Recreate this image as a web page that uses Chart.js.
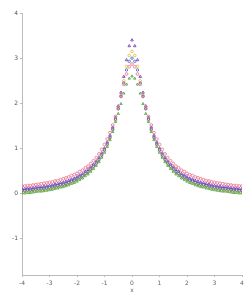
<!DOCTYPE html>
<html><head><meta charset="utf-8">
<script src="https://cdn.jsdelivr.net/npm/chart.js@4/dist/chart.umd.min.js"></script>
<style>html,body{margin:0;padding:0;background:#fff}#c{display:block}</style>
</head><body>
<canvas id="c" width="248" height="294"></canvas>
<script>
// x positions (step 0.1 from -4 to 4)
const xValues = [-4.0,-3.9,-3.8,-3.7,-3.6,-3.5,-3.4,-3.3,-3.2,-3.1,-3.0,-2.9,-2.8,-2.7,-2.6,-2.5,-2.4,-2.3,-2.2,-2.1,-2.0,-1.9,-1.8,-1.7,-1.6,-1.5,-1.4,-1.3,-1.2,-1.1,-1.0,-0.9,-0.8,-0.7,-0.6,-0.5,-0.4,-0.3,-0.2,-0.1,0.0,0.1,0.2,0.3,0.4,0.5,0.6,0.7,0.8,0.9,1.0,1.1,1.2,1.3,1.4,1.5,1.6,1.7,1.8,1.9,2.0,2.1,2.2,2.3,2.4,2.5,2.6,2.7,2.8,2.9,3.0,3.1,3.2,3.3,3.4,3.5,3.6,3.7,3.8,3.9,4.0];
const xTicks = [-4,-3,-2,-1,0,1,2,3,4];
const yTicks = [-1,0,1,2,3,4];

const purpleSeries = [0.11,0.11,0.12,0.12,0.13,0.14,0.15,0.15,0.16,0.17,0.18,0.19,0.21,0.22,0.24,0.25,0.27,0.29,0.32,0.34,0.37,0.41,0.44,0.49,0.53,0.59,0.65,0.72,0.80,0.90,1.01,1.14,1.29,1.47,1.69,1.94,2.24,2.59,2.96,3.27,
  3.40,
  3.27,2.96,2.59,2.24,1.94,1.69,1.47,1.29,1.14,1.01,0.90,0.80,0.72,0.65,0.59,0.53,0.49,0.44,0.41,0.37,0.34,0.32,0.29,0.27,0.25,0.24,0.22,0.21,0.19,0.18,0.17,0.16,0.15,0.15,0.14,0.13,0.12,0.12,0.11,0.11];
const yellowSeries = [0.05,0.05,0.06,0.06,0.07,0.08,0.09,0.09,0.10,0.11,0.12,0.13,0.15,0.16,0.18,0.19,0.21,0.23,0.26,0.28,0.31,0.35,0.38,0.43,0.47,0.53,0.59,0.66,0.74,0.84,0.95,1.08,1.23,1.41,1.63,1.88,2.17,2.50,2.82,3.06,
  3.15,
  3.06,2.82,2.50,2.17,1.88,1.63,1.41,1.23,1.08,0.95,0.84,0.74,0.66,0.59,0.53,0.47,0.43,0.38,0.35,0.31,0.28,0.26,0.23,0.21,0.19,0.18,0.16,0.15,0.13,0.12,0.11,0.10,0.09,0.09,0.08,0.07,0.06,0.06,0.05,0.05];
const blueSeries = [0.07,0.07,0.08,0.08,0.09,0.10,0.11,0.11,0.12,0.13,0.14,0.15,0.17,0.18,0.20,0.21,0.23,0.25,0.28,0.30,0.33,0.37,0.40,0.45,0.49,0.55,0.61,0.68,0.76,0.86,0.97,1.10,1.25,1.43,1.65,1.88,2.15,2.45,2.74,2.93,
  3.00,
  2.93,2.74,2.45,2.15,1.88,1.65,1.43,1.25,1.10,0.97,0.86,0.76,0.68,0.61,0.55,0.49,0.45,0.40,0.37,0.33,0.30,0.28,0.25,0.23,0.21,0.20,0.18,0.17,0.15,0.14,0.13,0.12,0.11,0.11,0.10,0.09,0.08,0.08,0.07,0.07];
const pinkSeries = [0.17,0.17,0.18,0.18,0.19,0.20,0.21,0.22,0.23,0.24,0.25,0.26,0.28,0.29,0.31,0.33,0.35,0.37,0.40,0.42,0.45,0.49,0.52,0.57,0.61,0.67,0.73,0.80,0.88,0.98,1.09,1.21,1.35,1.52,1.71,1.92,2.16,2.42,2.65,2.81,
  2.87,
  2.81,2.65,2.42,2.16,1.92,1.71,1.52,1.35,1.21,1.09,0.98,0.88,0.80,0.73,0.67,0.61,0.57,0.52,0.49,0.45,0.42,0.40,0.37,0.35,0.33,0.31,0.29,0.28,0.26,0.25,0.24,0.23,0.22,0.21,0.20,0.19,0.18,0.18,0.17,0.17];
const greenSeries = [0.01,0.01,0.02,0.02,0.03,0.04,0.05,0.05,0.06,0.07,0.08,0.09,0.11,0.12,0.14,0.15,0.17,0.19,0.22,0.24,0.27,0.31,0.34,0.39,0.43,0.49,0.55,0.62,0.70,0.80,0.91,1.04,1.19,1.37,1.59,1.77,1.99,2.22,2.42,2.55,
  2.60,
  2.55,2.42,2.22,1.99,1.77,1.59,1.37,1.19,1.04,0.91,0.80,0.70,0.62,0.55,0.49,0.43,0.39,0.34,0.31,0.27,0.24,0.22,0.19,0.17,0.15,0.14,0.12,0.11,0.09,0.08,0.07,0.06,0.05,0.05,0.04,0.03,0.02,0.02,0.01,0.01];

function pts(vals){ return xValues.map((x,i)=>({x:x,y:vals[i]})); }
function ds(vals,color,style,r){
  return {data:pts(vals),showLine:false,pointStyle:style,pointRadius:r,
    borderColor:color,backgroundColor:'rgba(0,0,0,0)',pointBorderWidth:0.8};
}
new Chart(document.getElementById('c'),{
  type:'scatter',
  data:{datasets:[
    ds(pinkSeries,'#e8708c','circle',1.4),
    ds(greenSeries,'#4a9e3a','triangle',1.4),
    ds(blueSeries,'#4358c0','circle',1.2),
    ds(yellowSeries,'#e0b830','circle',1.3),
    ds(purpleSeries,'#6e32b8','triangle',1.5)
  ]},
  options:{
    responsive:false,animation:false,
    layout:{padding:{top:13,right:6,left:0,bottom:0}},
    plugins:{legend:{display:false},tooltip:{enabled:false}},
    scales:{
      x:{type:'linear',min:-4,max:4,
        afterBuildTicks:a=>{a.ticks=xTicks.map(v=>({value:v}));},
        afterFit:a=>{a.height=19;},
        grid:{drawOnChartArea:false,drawTicks:true,tickLength:2,color:'#bbb'},
        border:{color:'#bbb'},
        ticks:{font:{size:6,family:'DejaVu Sans'},color:'#666',padding:3,maxRotation:0},
        title:{display:true,text:'x',font:{size:6,family:'DejaVu Sans'},color:'#666',padding:0}
      },
      y:{type:'linear',min:-1.8,max:4,
        afterBuildTicks:a=>{a.ticks=yTicks.map(v=>({value:v}));},
        afterFit:a=>{a.width=22;},
        grid:{drawOnChartArea:false,drawTicks:true,tickLength:2,color:'#bbb'},
        border:{color:'#bbb'},
        ticks:{font:{size:6,family:'DejaVu Sans'},color:'#555',padding:2}
      }
    }
  }
});
</script>
</body></html>
